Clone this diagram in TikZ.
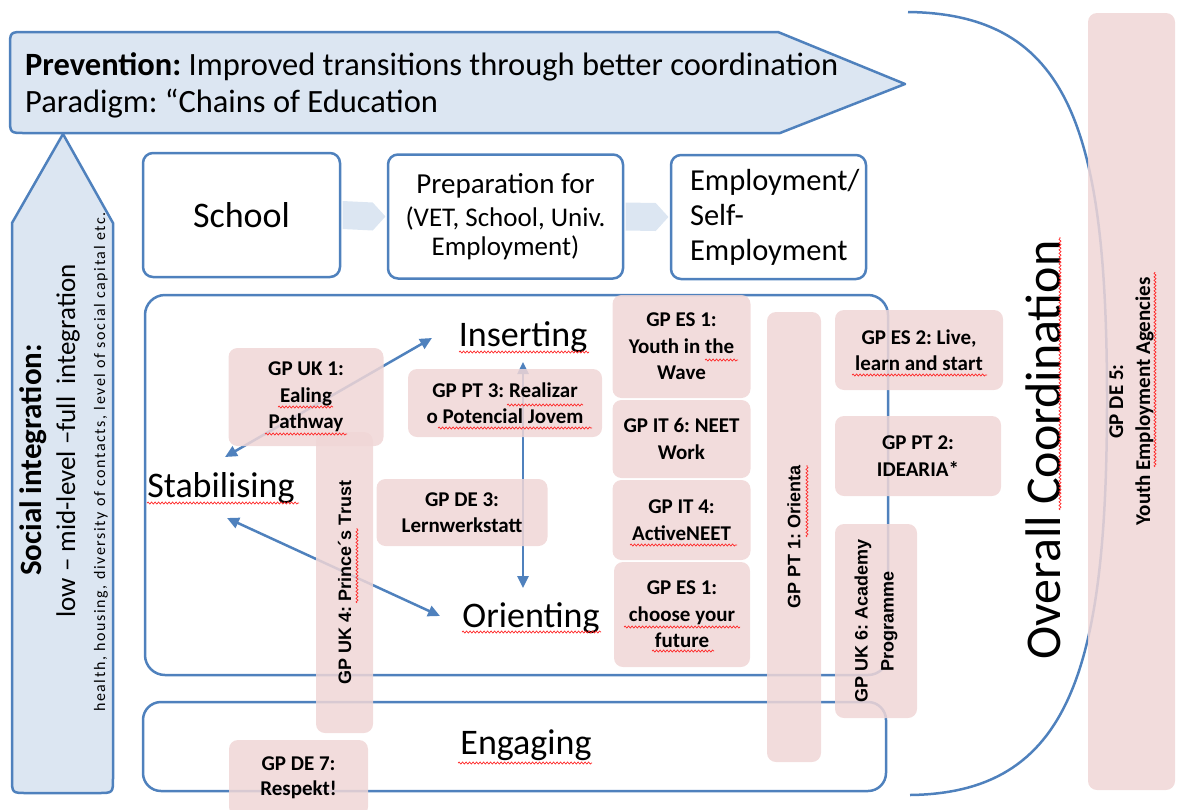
\documentclass[tikz,border=0pt]{standalone}
\usepackage{fontspec}
\setmainfont{Carlito}
\newfontfamily\arialfont{Liberation Sans}
\newfontfamily\spacedfont[LetterSpace=10]{Carlito}
\usetikzlibrary{arrows.meta,decorations.pathmorphing}
\definecolor{frameblue}{RGB}{79,129,189}
\definecolor{lightfill}{RGB}{220,230,242}
\definecolor{pinkfill}{RGB}{240,214,214}
\pgfdeclarelayer{edgelayer}
\pgfdeclarelayer{nodelayer}
\pgfsetlayers{edgelayer,nodelayer,main}
\tikzstyle{bigarrow}=[draw=frameblue, fill=lightfill, line width=2.5pt, line join=round]
\tikzstyle{stage}=[rectangle, rounded corners=10pt, draw=frameblue, fill=white, line width=2.5pt, minimum height=124pt, inner sep=0pt]
\tikzstyle{frame}=[rectangle, rounded corners=20pt, draw=frameblue, line width=2.5pt, inner sep=0pt]
\tikzstyle{phase}=[inner sep=0pt, font=\fontsize{36}{40}\selectfont]
\tikzstyle{gp}=[rectangle, rounded corners=9pt, fill=pinkfill, fill opacity=0.85, text opacity=1, align=center, inner sep=0pt, font=\bfseries\fontsize{21}{26.5}\selectfont]
\tikzstyle{gpbar}=[gp, rotate=90, font=\arialfont\bfseries\fontsize{18}{26}\selectfont]
\tikzstyle{chevron}=[fill=lightfill]
\tikzstyle{arrow}=[{Triangle[length=12pt,width=11pt]}-{Triangle[length=12pt,width=11pt]}, draw=frameblue, line width=2.5pt]
\tikzstyle{spell}=[draw=red!85, line width=0.7pt, decorate, decoration={snake, amplitude=1pt, segment length=3.5pt}]

\begin{document}
\frenchspacing
\begin{tikzpicture}[x=1pt, y=-1pt]
    \useasboundingbox (0,0) rectangle (1178,809);
    \begin{pgfonlayer}{edgelayer}
        % overall coordination bracket
        \draw [frameblue, line width=2.5pt] (908,12) .. controls (1070,14) and (1107,130) .. (1107,400) .. controls (1107,670) and (1070,793) .. (910,795);
        \draw [style=bigarrow] (25,32) -- (778,32) -- (905,84) -- (780,133) -- (25,133) .. controls (10,133) .. (10,118) -- (10,47) .. controls (10,32) .. (25,32) -- cycle;
        \draw [style=bigarrow] (63,134) -- (113,223) -- (113,778) .. controls (113,793) .. (98,793) -- (27,793) .. controls (12,793) .. (12,778) -- (12,223) -- cycle;
        \node [anchor=base west, align=left, inner sep=0pt, font=\fontsize{32.5}{37}\selectfont] (prev) at (25,112) {\textbf{Prevention:} Improved transitions through better coordination\\Paradigm: “Chains of Education};
        \node [rotate=90, inner sep=0pt, font=\bfseries\fontsize{31}{36}\selectfont] (soc) at (33,460) {Social integration:};
        \node [rotate=90, inner sep=0pt, font=\fontsize{27}{32}\selectfont] (lvl) at (68,441) {low – mid-level –full\ \ integration};
        \node [rotate=90, inner sep=0pt, font=\spacedfont\fontsize{16}{18}\selectfont] (cap) at (101,462) {health, housing, diversity of contacts, level of social capital etc.};

        \node [style=stage, minimum width=197pt, font=\fontsize{36}{40}\selectfont] (school) at (241.5,215) {School};
        \node [style=stage, minimum width=235pt, align=center, font=\fontsize{27}{29}\selectfont] (prep) at (505.5,216.5) {{\fontsize{29}{33}\selectfont Preparation for}\\[4pt](VET, School, Univ.\\Employment)};
        \node [style=stage, minimum width=195pt, text width=157pt, align=left, font=\fontsize{30.5}{35}\selectfont] (emp) at (768.5,217) {Employment/\\Self-\\Employment};
        \fill [style=chevron] ([xshift=1.3pt,yshift=14pt]school.east) -- ([xshift=-14pt,yshift=14pt]prep.west) -- ([xshift=-1.3pt]prep.west) -- ([xshift=-14pt,yshift=-14pt]prep.west) -- ([xshift=1.3pt,yshift=-14pt]school.east) -- cycle;
        \fill [style=chevron] ([xshift=1.3pt,yshift=14pt]prep.east) -- ([xshift=-14pt,yshift=14pt]emp.west) -- ([xshift=-1.3pt]emp.west) -- ([xshift=-14pt,yshift=-14pt]emp.west) -- ([xshift=1.3pt,yshift=-14pt]prep.east) -- cycle;

        \node [style=frame, minimum width=743pt, minimum height=380pt] (core) at (516.5,485) {};
        \node [style=frame, rounded corners=18pt, minimum width=743pt, minimum height=89pt] (engbox) at (514.5,746.5) {};
        \node [style=phase] (ins) at (523,337) {Inserting};
        \node [style=phase] (stab) at (221,488) {Stabilising};
        \node [style=phase] (ori) at (531,618) {Orienting};
        \node [style=phase] (eng) at (526,745) {Engaging};
        \node [rotate=90, inner sep=0pt, font=\fontsize{50}{56}\selectfont] (coord) at (1043,450) {Overall Coordination};

        \coordinate (stabN) at (225,457);
        \coordinate (insW) at (432,338);
        \coordinate (stabS) at (227,518);
        \coordinate (oriW) at (440,616);
        \coordinate (insS) at (523,362);
        \coordinate (oriN) at (523,588);
        \draw [style=arrow] (stabN) -- (insW);
        \draw [style=arrow] (stabS) -- (oriW);
        \draw [style=arrow] (insS) -- (oriN);
    \end{pgfonlayer}
    \begin{pgfonlayer}{nodelayer}
        \node [style=gp, minimum width=155pt, minimum height=98pt] (uk1) at (306,397) {GP UK 1:\\Ealing\\Pathway};
        \node [style=gpbar, minimum width=301pt, minimum height=57pt] (uk4) at (344.5,582.5) {GP UK 4: Prince´s Trust};
        \node [style=gp, minimum width=194pt, minimum height=68pt] (pt3) at (505,403) {GP PT 3: Realizar\\o Potencial Jovem};
        \node [style=gp, minimum width=171pt, minimum height=67pt] (de3) at (462,512.5) {GP DE 3:\\Lernwerkstatt};
        \node [style=gp, minimum width=138pt, minimum height=103pt] (es1a) at (681.5,346.5) {GP ES 1:\\Youth in the\\Wave};
        \node [style=gp, minimum width=138pt, minimum height=78pt] (it6) at (681.5,439) {GP IT 6: NEET\\Work};
        \node [style=gp, minimum width=138pt, minimum height=80pt] (it4) at (681.5,520) {GP IT 4:\\ActiveNEET};
        \node [style=gp, minimum width=136pt, minimum height=105pt] (es1b) at (682,614.5) {GP ES 1:\\choose your\\future};
        \node [style=gpbar, minimum width=450pt, minimum height=54pt] (pt1) at (794,537) {GP PT 1: Orienta};
        \node [style=gp, minimum width=168pt, minimum height=80pt] (es2) at (919,350) {GP ES 2: Live,\\learn and start};
        \node [style=gp, minimum width=166pt, minimum height=80pt] (pt2) at (918,456) {GP PT 2:\\IDEARIA*};
        \node [style=gpbar, minimum width=194pt, minimum height=82pt] (uk6) at (876,621) {GP UK 6: Academy\\Programme};
        \node [style=gp, rotate=90, minimum width=777pt, minimum height=87pt, font=\bfseries\fontsize{21}{27}\selectfont] (de5) at (1131.5,401.5) {GP DE 5:\\Youth Employment Agencies};
        \node [style=gp, minimum width=139pt, minimum height=76pt, font=\bfseries\fontsize{21}{25}\selectfont] (de7) at (298.5,778) {GP DE 7:\\Respekt!};
    \end{pgfonlayer}
    % spell check marks
    \draw [style=spell] (459,352) -- (589,352);
    \draw [style=spell] (147,503) -- (299,503);
    \draw [style=spell] (462,632) -- (601,632);
    \draw [style=spell] (458,763) -- (592,763);
    \draw [style=spell] (1060,510) -- (1060,237);
    \draw [style=spell] (1155,467) -- (1155,272);
    \draw [style=spell] (807,537) -- (807,465);
    \draw [style=spell] (357,603) -- (357,528);
    \draw [style=spell] (278,407) -- (333,407);
    \draw [style=spell] (265,434) -- (347,434);
    \draw [style=spell] (507,405) -- (583,405);
    \draw [style=spell] (438,428) -- (592,428);
    \draw [style=spell] (705,360) -- (738,360);
    \draw [style=spell] (630,545) -- (737,545);
    \draw [style=spell] (624,627) -- (740,627);
    \draw [style=spell] (652,651) -- (714,651);
    \draw [style=spell] (852,375) -- (987,375);
\end{tikzpicture}
\end{document}
